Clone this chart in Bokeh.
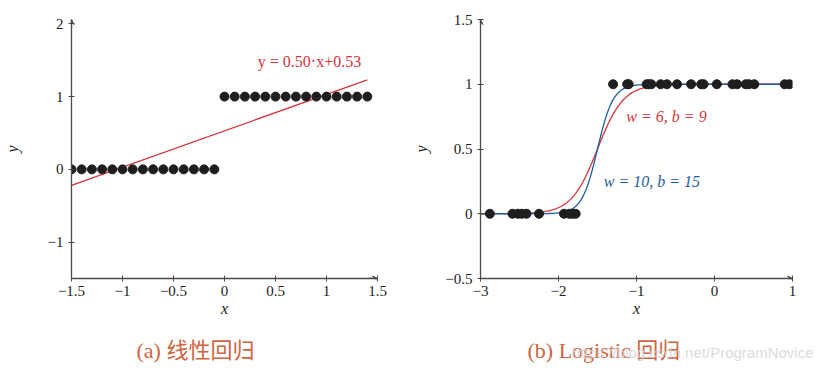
import numpy as np
from bokeh.plotting import figure
from bokeh.layouts import row, column
from bokeh.models import Label, FixedTicker, Arrow, VeeHead, Range1d
from bokeh.embed import file_html
from bokeh.resources import INLINE

# ---------- data: (a) linear regression ----------
A_X0 = [-1.5, -1.4, -1.3, -1.2, -1.1, -1.0, -0.9, -0.8, -0.7, -0.6, -0.5, -0.4, -0.3, -0.2, -0.1]
A_Y0 = [0] * 15
A_X1 = [0.0, 0.1, 0.2, 0.3, 0.4, 0.5, 0.6, 0.7, 0.8, 0.9, 1.0, 1.1, 1.2, 1.3, 1.4]
A_Y1 = [1] * 15
A_SLOPE = 0.50
A_INTERCEPT = 0.53
A_LINE_X = [-1.5, 1.4]
A_XTICKS = [-1.5, -1, -0.5, 0, 0.5, 1, 1.5]
A_XLABELS = ["\u22121.5", "\u22121", "\u22120.5", "0", "0.5", "1", "1.5"]
A_YTICKS = [-1, 0, 1, 2]
A_YLABELS = ["\u22121", "0", "1", "2"]

# ---------- data: (b) logistic regression ----------
B_X0 = [-2.88, -2.59, -2.52, -2.47, -2.41, -2.25, -1.93, -1.86, -1.82, -1.78]
B_Y0 = [0] * 10
B_X1 = [-1.30, -1.12, -1.10, -0.87, -0.84, -0.81, -0.69, -0.61, -0.48, -0.30,
        -0.17, -0.14, 0.03, 0.23, 0.29, 0.40, 0.44, 0.51, 0.90, 0.96]
B_Y1 = [1] * 20
B_W = [6, 10]
B_B = [9, 15]
B_XTICKS = [-3, -2, -1, 0, 1]
B_XLABELS = ["\u22123", "\u22122", "\u22121", "0", "1"]
B_YTICKS = [-0.5, 0, 0.5, 1, 1.5]
B_YLABELS = ["\u22120.5", "0", "0.5", "1", "1.5"]

CAPTION_A = "(a) \u7ebf\u6027\u56de\u5f52"
CAPTION_B = "(b) Logistic \u56de\u5f52"
WATERMARK = "https://blog.csdn.net/ProgramNovice"

SERIF = "Liberation Serif"
CAP_FONT = "'Liberation Serif', 'Noto Sans CJK SC'"
RED = "#d7333b"
BLUE = "#1d5c9b"
CAPTION = "#cf6440"
AXIS = "#4a4a4a"
DOT = "#1e1e1e"


def style(p, xt, xl, yt, yl):
    p.grid.visible = False
    p.outline_line_color = None
    for ax in (p.xaxis[0], p.yaxis[0]):
        ax.axis_line_color = AXIS
        ax.axis_line_width = 1.3
        ax.major_tick_line_color = AXIS
        ax.major_tick_in = 3
        ax.major_tick_out = 3
        ax.minor_tick_line_color = None
        ax.major_label_text_font = SERIF
        ax.major_label_text_font_size = "15px"
        ax.major_label_text_color = "#222222"
        ax.axis_label_text_font = SERIF
        ax.axis_label_text_font_size = "16px"
        ax.axis_label_text_font_style = "italic"
        ax.axis_label_text_color = "#222222"
    p.xaxis[0].ticker = FixedTicker(ticks=xt)
    p.xaxis[0].major_label_overrides = {t: s for t, s in zip(xt, xl)}
    p.yaxis[0].ticker = FixedTicker(ticks=yt)
    p.yaxis[0].major_label_overrides = {t: s for t, s in zip(yt, yl)}
    p.xaxis[0].axis_label = "x"
    p.yaxis[0].axis_label = "y"
    p.xaxis[0].major_label_standoff = 4
    p.xaxis[0].axis_label_standoff = 1
    p.yaxis[0].major_label_standoff = 5


def arrowhead(p, x0, y0, x1, y1):
    p.add_layout(Arrow(x_start=x0, y_start=y0, x_end=x1, y_end=y1, line_color=AXIS,
                       line_width=1.3, end=VeeHead(size=5, line_color=AXIS, fill_color=AXIS)))


# ---------- figure (a) ----------
p1 = figure(width=400, height=330, output_backend="svg", toolbar_location=None,
            x_range=Range1d(-1.5, 1.5), y_range=Range1d(-1.5, 2.06),
            min_border_left=70, min_border_right=23, min_border_top=19, min_border_bottom=52)
style(p1, A_XTICKS, A_XLABELS, A_YTICKS, A_YLABELS)
p1.yaxis[0].axis_label_standoff = 24

line_y = [A_SLOPE * x + A_INTERCEPT for x in A_LINE_X]
p1.line(A_LINE_X, line_y, line_color=RED, line_width=1.3)
p1.scatter(A_X0, A_Y0, size=9, fill_color=DOT, line_color=DOT)
p1.scatter(A_X1, A_Y1, size=9, fill_color=DOT, line_color=DOT)
p1.add_layout(Label(x=1.34, y=1.48, text="y = 0.50\u00b7x+0.53", text_align="right",
                    text_baseline="middle", text_font=SERIF, text_font_size="16px",
                    text_color=RED))
arrowhead(p1, -1.5, 1.95, -1.5, 2.06)
arrowhead(p1, 1.4, -1.5, 1.5, -1.5)

# ---------- figure (b) ----------
p2 = figure(width=422, height=330, output_backend="svg", toolbar_location=None,
            x_range=Range1d(-3, 1), y_range=Range1d(-0.5, 1.5),
            min_border_left=80, min_border_right=30, min_border_top=19, min_border_bottom=52)
style(p2, B_XTICKS, B_XLABELS, B_YTICKS, B_YLABELS)
p2.yaxis[0].axis_label_standoff = 12

xs = np.linspace(-3, 1, 401)
for w, b, c in zip(B_W, B_B, [RED, BLUE]):
    p2.line(xs, 1.0 / (1.0 + np.exp(-(w * xs + b))), line_color=c, line_width=1.3)
p2.scatter(B_X0, B_Y0, size=9, fill_color=DOT, line_color=DOT)
p2.scatter(B_X1, B_Y1, size=9, fill_color=DOT, line_color=DOT)
p2.add_layout(Label(x=-1.13, y=0.75, text="w = 6, b = 9", text_align="left",
                    text_baseline="middle", text_font=SERIF, text_font_size="16px",
                    text_font_style="italic", text_color=RED))
p2.add_layout(Label(x=-1.42, y=0.25, text="w = 10, b = 15", text_align="left",
                    text_baseline="middle", text_font=SERIF, text_font_size="16px",
                    text_font_style="italic", text_color=BLUE))
arrowhead(p2, -3, 1.45, -3, 1.5)
arrowhead(p2, 0.95, -0.5, 1.0, -0.5)

# ---------- caption strip (pixel-like data coordinates) ----------
p3 = figure(width=822, height=42, output_backend="svg", toolbar_location=None,
            x_range=Range1d(0, 822), y_range=Range1d(42, 0),
            min_border=0, x_axis_type=None, y_axis_type=None)
p3.grid.visible = False
p3.outline_line_color = None
p3.add_layout(Label(x=136, y=20, text=CAPTION_A, text_align="left", text_baseline="middle",
                    text_font=CAP_FONT, text_font_size="22px", text_color=CAPTION))
p3.add_layout(Label(x=527, y=20, text=CAPTION_B, text_align="left", text_baseline="middle",
                    text_font=CAP_FONT, text_font_size="22px", text_color=CAPTION))
p3.add_layout(Label(x=813, y=22, text=WATERMARK, text_align="right", text_baseline="middle",
                    text_font="Liberation Sans", text_font_size="15px",
                    text_color="#d4d4d4", text_alpha=0.85))

layout = column(row(p1, p2), p3)
open("out.html", "w").write(file_html(layout, INLINE))
